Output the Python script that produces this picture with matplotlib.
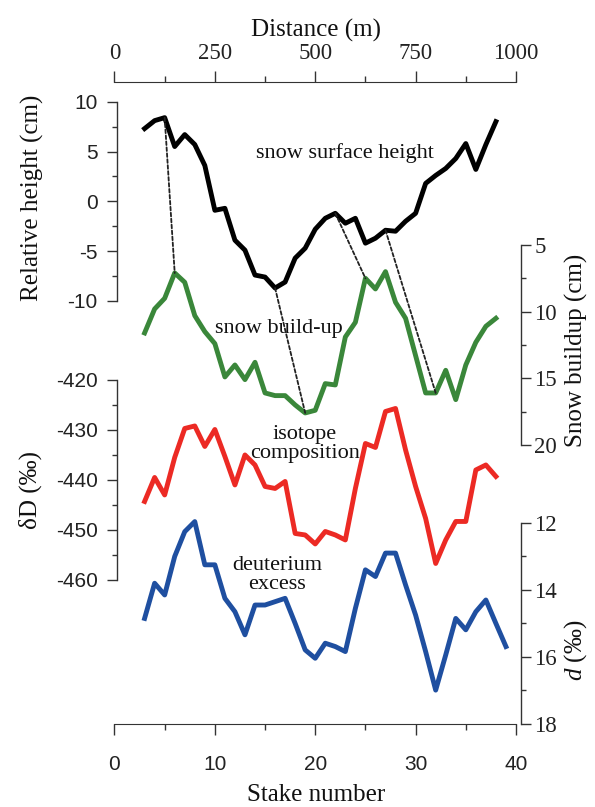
import matplotlib.pyplot as plt
from matplotlib.patches import ConnectionPatch
import numpy as np

plt.rcParams['font.family'] = ['Liberation Serif', 'DejaVu Serif']
plt.rcParams['mathtext.fontset'] = 'custom'
plt.rcParams['mathtext.it'] = 'Liberation Serif:italic'
plt.rcParams['mathtext.rm'] = 'Liberation Serif'
plt.rcParams['axes.unicode_minus'] = False

# data
stake = np.arange(3, 39)
stake_d = np.arange(3, 40)
height = [7.3, 8.1, 8.4, 5.5, 6.7, 5.7, 3.6, -0.9, -0.7, -3.9, -4.9, -7.4, -7.6, -8.7, -8.1, -5.7,
          -4.7, -2.8, -1.7, -1.2, -2.2, -1.7, -4.2, -3.7, -2.9, -3.0, -2.0, -1.2, 1.8, 2.6, 3.3, 4.3,
          5.8, 3.2, 5.7, 8.0]
buildup = [11.6, 9.8, 9.0, 7.1, 7.8, 10.3, 11.5, 12.4, 14.9, 14.0, 15.1, 13.8, 16.1, 16.3, 16.3, 17.0,
           17.6, 17.4, 15.4, 15.5, 11.9, 10.8, 7.5, 8.3, 7.0, 9.3, 10.5, 13.3, 16.1, 16.1, 14.4, 16.6,
           14.0, 12.3, 11.1, 10.5]
dD = [-444.3, -439.5, -443.0, -435.5, -429.7, -429.2, -433.3, -429.9, -435.3, -441.0, -435.0, -437.0,
      -441.3, -441.7, -440.3, -450.7, -451.0, -452.8, -450.3, -451.0, -452.0, -441.7, -432.7, -433.5,
      -426.3, -425.7, -434.0, -441.3, -447.7, -456.7, -452.0, -448.3, -448.3, -438.0, -437.0, -439.3]
dexc = [14.85, 13.8, 14.15, 13.0, 12.26, 11.96, 13.25, 13.25, 14.25, 14.65, 15.34, 14.45, 14.45, 14.35,
        14.25, 15.0, 15.79, 16.04, 15.59, 15.69, 15.84, 14.55, 13.4, 13.6, 12.9, 12.9, 13.85, 14.75,
        15.84, 16.99, 15.94, 14.85, 15.19, 14.65, 14.3, 15.0, 15.69]
# (stake on surface curve, stake on build-up curve)
links = [(5, 6), (16, 19), (22, 25), (27, 32)]

c_green = '#3a873a'
c_red = '#ec2a24'
c_blue = '#1f4fa0'
c_axis = '#333333'
lw = 3.5
sans = ['Liberation Sans', 'DejaVu Sans']

fig = plt.figure(figsize=(5.95, 8.07), dpi=100)
rect = [0.1924, 0.1029, 0.6748, 0.7959]


def layer():
    a = fig.add_axes(rect, facecolor='none')
    for s in a.spines.values():
        s.set_visible(False)
    a.set_xlim(0, 40)
    a.tick_params(axis='x', which='both', bottom=False, labelbottom=False)
    return a


def style_y(a, side, bounds, major, minor):
    sp = a.spines[side]
    sp.set_visible(True)
    sp.set_bounds(*bounds)
    sp.set_color(c_axis)
    sp.set_linewidth(1)
    a.set_yticks(major)
    a.set_yticks(minor, minor=True)
    if side == 'left':
        sp.set_position(('data', 0.25))
        a.tick_params(axis='y', which='major', length=7, width=1, colors=c_axis,
                      labelcolor='#222222', labelsize=15, pad=7)
        for t in a.get_yticklabels():
            t.set_family(sans)
    else:
        a.yaxis.tick_right()
        sp.set_position(('data', 40.45))
        a.tick_params(axis='y', which='major', length=7, width=1, colors=c_axis,
                      labelcolor='#222222', labelsize=16.5, pad=3)
    a.tick_params(axis='y', which='minor', length=3.5, width=1, colors=c_axis)


# snow surface height
ax_h = layer()
ax_h.set_ylim(-52.45, 12.01)
ax_h.plot(stake, height, color='black', lw=lw)
style_y(ax_h, 'left', (-10, 10), [-10, -5, 0, 5, 10], [-7.5, -2.5, 2.5, 7.5])

# bottom axis: stake number
ax_h.spines['bottom'].set_visible(True)
ax_h.spines['bottom'].set_color(c_axis)
ax_h.set_xticks([0, 10, 20, 30, 40])
ax_h.set_xticks([5, 15, 25, 35], minor=True)
ax_h.tick_params(axis='x', which='major', bottom=True, labelbottom=True, length=8, width=1,
                 colors=c_axis, labelcolor='#222222', labelsize=15, pad=14)
ax_h.tick_params(axis='x', which='minor', bottom=True, length=4, width=1, colors=c_axis)
for t in ax_h.get_xticklabels():
    t.set_family(sans)

# top axis: distance
ax_t = ax_h.twiny()
for s in ax_t.spines.values():
    s.set_visible(False)
ax_t.spines['top'].set_visible(True)
ax_t.spines['top'].set_color(c_axis)
ax_t.set_xlim(0, 1000)
ax_t.set_xticks([0, 250, 500, 750, 1000])
ax_t.set_xticks([125, 375, 625, 875], minor=True)
ax_t.tick_params(axis='x', which='major', length=8, width=1, colors=c_axis,
                 labelcolor='#222222', labelsize=16.5, pad=5)
ax_t.tick_params(axis='x', which='minor', length=4, width=1, colors=c_axis)

# snow build-up
ax_s = layer()
ax_s.set_ylim(40.93, -7.25)
ax_s.plot(stake, buildup, color=c_green, lw=lw)
style_y(ax_s, 'right', (5, 20), [5, 10, 15, 20], [7.5, 12.5, 17.5])

# isotope composition
ax_D = layer()
ax_D.set_ylim(-488.8, -360.34)
ax_D.plot(stake, dD, color=c_red, lw=lw)
style_y(ax_D, 'left', (-460, -420), [-460, -450, -440, -430, -420], [-455, -445, -435, -425])

# deuterium excess
ax_d = layer()
ax_d.set_ylim(18, -1.17)
ax_d.plot(stake_d, dexc, color=c_blue, lw=lw)
style_y(ax_d, 'right', (12, 18), [12, 14, 16, 18], [13, 15, 17])

# dashed links between surface height and build-up
for a, b in links:
    con = ConnectionPatch(xyA=(a, height[a - 3]), coordsA=ax_h.transData,
                          xyB=(b, buildup[b - 3]), coordsB=ax_s.transData,
                          color='#222222', lw=1.3, linestyle=(0, (2, 1.3)))
    fig.add_artist(con)

# curve labels
txt = dict(fontsize=16, color='#111111', ha='center', va='center')
fig.text(345 / 595, 1 - 153 / 807, 'snow surface height', **txt)
fig.text(279 / 595, 1 - 329 / 807, 'snow build-up', **txt)
fig.text(305 / 595, 1 - 444 / 807, 'isotope\ncomposition', linespacing=1.0, **txt)
fig.text(277 / 595, 1 - 575 / 807, 'deuterium\nexcess', linespacing=1.0, **txt)

# axis titles
lab = dict(fontsize=18, color='#111111', ha='center', va='center')
fig.text(316 / 595, 1 - 30 / 807, 'Distance (m)', **lab)
fig.text(316 / 595, 1 - 795 / 807, 'Stake number', **lab)
fig.text(32 / 595, 1 - 198 / 807, 'Relative height (cm)', rotation=90, **lab)
fig.text(30 / 595, 1 - 490 / 807, 'δD (‰)', rotation=90, **lab)
fig.text(576 / 595, 1 - 350 / 807, 'Snow buildup (cm)', rotation=90, **lab)
fig.text(576 / 595, 1 - 650 / 807, '$d$ (‰)', rotation=90, **lab)

fig.savefig('out.png', dpi=100)
